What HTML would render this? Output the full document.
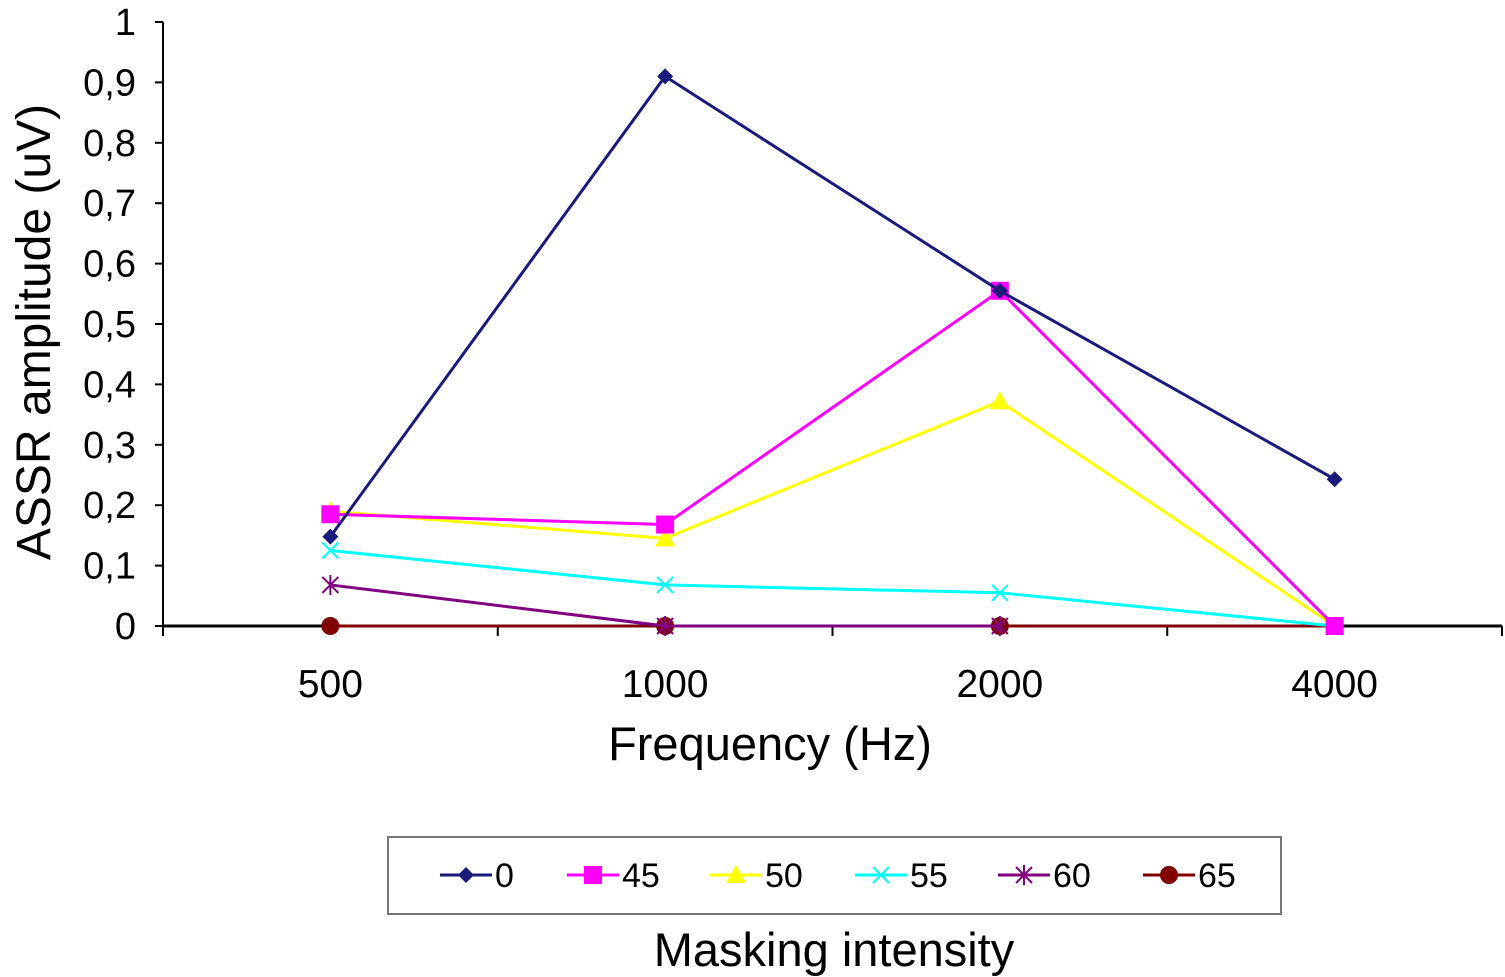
<!DOCTYPE html>
<html><head><meta charset="utf-8"><style>
body{margin:0;background:#fff;}
svg{display:block;font-family:"Liberation Sans",Arial,sans-serif;}
</style></head><body>
<svg id="chart" width="1505" height="977" viewBox="0 0 1505 977"></svg>
<script>
const categories = ["500","1000","2000","4000"];
const yTicks = ["0","0,1","0,2","0,3","0,4","0,5","0,6","0,7","0,8","0,9","1"];
const seriesNames = ["0","45","50","55","60","65"];
const s0 = [0.148,0.91,0.555,0.243];
const s45 = [0.185,0.168,0.555,0];
const s50 = [0.19,0.145,0.372,0];
const s55 = [0.125,0.068,0.055,0];
const s60 = [0.068,0,0,null];
const s65 = [0,0,0,0];
const seriesValues = [s0,s45,s50,s55,s60,s65];
const colors = ["#1a1a7a","#ff00ff","#ffff00","#00ffff","#800080","#800000"];
const markers = ["diamond","square","triangle","x","star","circle"];

const NS="http://www.w3.org/2000/svg";
const svg=document.getElementById('chart');
const X0=163,X1=1502,Y0=626,Y1=22;
const bw=(X1-X0)/categories.length;
const xs=i=>X0+bw*(i+0.5);
const ys=v=>Y0-(Y0-Y1)*v;
function el(t,a,p){const e=document.createElementNS(NS,t);for(const k in a)e.setAttribute(k,a[k]);(p||svg).appendChild(e);return e;}
function marker(type,x,y,c,g){
  if(type==="diamond")return el('polygon',{points:`${x},${y-8} ${x+8},${y} ${x},${y+8} ${x-8},${y}`,fill:c},g);
  if(type==="square")return el('rect',{x:x-9,y:y-9,width:18,height:18,fill:c},g);
  if(type==="triangle")return el('polygon',{points:`${x},${y-10} ${x+10},${y+8} ${x-10},${y+8}`,fill:c},g);
  if(type==="circle")return el('circle',{cx:x,cy:y,r:9,fill:c},g);
  const gg=el('g',{stroke:c,'stroke-width':2},g);
  el('line',{x1:x-8,y1:y-8,x2:x+8,y2:y+8},gg);el('line',{x1:x-8,y1:y+8,x2:x+8,y2:y-8},gg);
  if(type==="star")el('line',{x1:x,y1:y-10,x2:x,y2:y+10},gg);
  return gg;
}
const ya=el('g',{});  
el('line',{x1:X0,y1:Y1,x2:X0,y2:Y0,stroke:'#000','stroke-width':2},ya);
yTicks.forEach((t,i)=>{const v=i/10,y=ys(v);
  el('line',{x1:X0-8,y1:y,x2:X0,y2:y,stroke:'#000','stroke-width':2},ya);
  const tx=el('text',{x:X0-27,y:y+13,'text-anchor':'end','font-size':38},ya);tx.textContent=t;
  
  
});
const yt=el('text',{x:50,y:332,'text-anchor':'middle','font-size':48,transform:'rotate(-90 50 332)'});
yt.textContent='ASSR amplitude (uV)';


const xa=el('g',{});  
el('line',{x1:X0,y1:Y0,x2:X1,y2:Y0,stroke:'#000','stroke-width':3},xa);
for(let i=0;i<=categories.length;i++){const x=X0+bw*i;el('line',{x1:x,y1:Y0,x2:x,y2:Y0+10,stroke:'#000','stroke-width':2},xa);}
categories.forEach((c,i)=>{const t=el('text',{x:xs(i),y:697,'text-anchor':'middle','font-size':39},xa);t.textContent=c;
  
  });
const xt=el('text',{x:770,y:760,'text-anchor':'middle','font-size':47});xt.textContent='Frequency (Hz)';


for(let s=seriesValues.length-1;s>=0;s--){
  const g=el('g',{});
  
  
  const vals=seriesValues[s];
  const pts=[];vals.forEach((v,i)=>{if(v!==null)pts.push(xs(i)+','+ys(v));});
  el('polyline',{points:pts.join(' '),fill:'none',stroke:colors[s],'stroke-width':3},g);
  vals.forEach((v,i)=>{if(v!==null){const m=marker(markers[s],xs(i),ys(v),colors[s],g);
    
    }});
}
const lg=el('g',{});


el('rect',{x:388,y:837,width:893,height:77,fill:'#fff',stroke:'#777','stroke-width':2},lg);
const lx=[440,567,710,855,998,1143];
seriesNames.forEach((n,s)=>{
  const e=el('g',{},lg);
  
  
  el('line',{x1:lx[s],y1:875,x2:lx[s]+52,y2:875,stroke:colors[s],'stroke-width':3},e);
  marker(markers[s],lx[s]+26,875,colors[s],e);
  const t=el('text',{x:lx[s]+55,y:887,'font-size':34},e);t.textContent=n;
});
const lt=el('text',{x:834,y:966,'text-anchor':'middle','font-size':47});lt.textContent='Masking intensity';


</script>
</body></html>
